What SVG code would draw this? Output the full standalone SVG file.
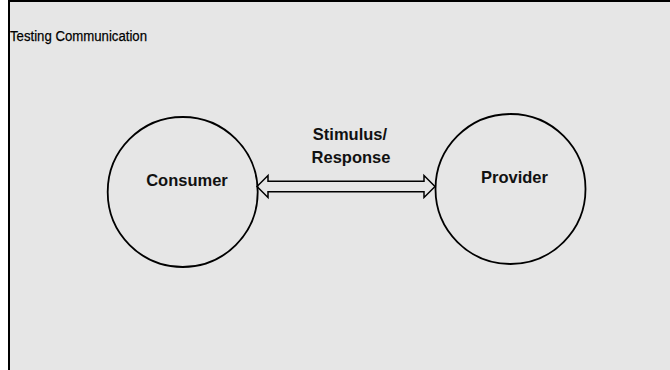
<svg xmlns="http://www.w3.org/2000/svg" width="670" height="370" viewBox="0 0 670 370">
  <style>
    .frame { fill: #e6e6e6; stroke: #000; stroke-width: 2; }
    .node { fill: none; stroke: #000; stroke-width: 1.8; }
    .label { font-family: "Liberation Sans", Arial, sans-serif; font-weight: bold; font-size: 16.5px; fill: #111; text-anchor: middle; }
    .title { font-family: "Liberation Sans", Arial, sans-serif; font-size: 15.5px; fill: #000; stroke: #000; stroke-width: 0.25; }
    .link { fill: #e6e6e6; stroke: #000; stroke-width: 1.5; stroke-linejoin: miter; }
  </style>
  <rect width="670" height="370" fill="#fff"/>
  <!-- panel frame, running past the right and bottom edges -->
  <rect class="frame" x="9" y="1" width="680" height="390"/>
  <text class="title" x="10" y="40.5" textLength="137" lengthAdjust="spacingAndGlyphs">Testing Communication</text>

  <g id="connectors">
    <!-- hollow double-headed arrow between the two parties -->
    <path class="link" d="M257,186.5 L268,175.5 L268,181.2 L424,181.2 L424,175.5 L435,186.5 L424,197.5 L424,191.8 L268,191.8 L268,197.5 Z"/>
    <text class="label" x="350" y="139.5">Stimulus/</text>
    <text class="label" x="351" y="162.5">Response</text>
  </g>

  <g id="consumer">
    <circle class="node" cx="182.7" cy="192" r="75"/>
    <text class="label" x="187" y="186">Consumer</text>
  </g>

  <g id="provider">
    <circle class="node" cx="510.5" cy="189" r="75"/>
    <text class="label" x="514.5" y="182.7">Provider</text>
  </g>
</svg>
